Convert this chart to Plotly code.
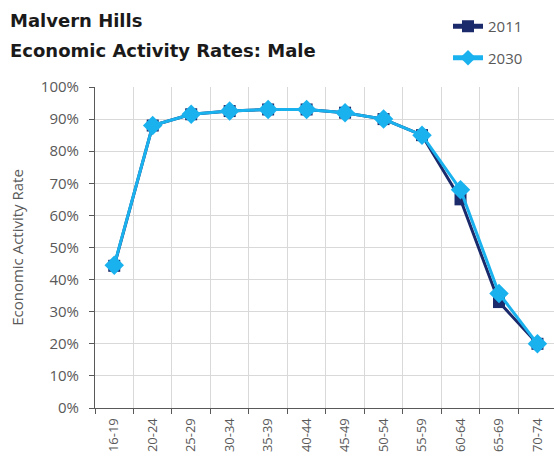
import plotly.graph_objects as go

categories = ["16-19", "20-24", "25-29", "30-34", "35-39", "40-44", "45-49",
              "50-54", "55-59", "60-64", "65-69", "70-74"]
rate_2011 = [0.443, 0.880, 0.915, 0.925, 0.930, 0.930, 0.920, 0.900, 0.850, 0.650, 0.330, 0.200]
rate_2030 = [0.445, 0.880, 0.915, 0.925, 0.930, 0.930, 0.920, 0.900, 0.850, 0.680, 0.357, 0.200]
y_ticks = [i / 10 for i in range(11)]
y_tick_labels = [f"{i * 10}%" for i in range(11)]

c2011 = "#1B2A6B"
c2030 = "#1AB2EE"
grey = "#595959"
font = "Open Sans, sans-serif"
title_font = "DejaVu Sans, sans-serif"

L, T, B, R = 95, 87, 60, 0
PW, PH = 554 - L - R, 468 - T - B

fig = go.Figure()
fig.add_trace(go.Scatter(x=categories, y=rate_2011, name="2011", mode="lines+markers",
                         line=dict(color=c2011, width=3),
                         marker=dict(symbol="square", size=12, color=c2011),
                         legendgroup="a"))
fig.add_trace(go.Scatter(x=categories, y=rate_2030, name="2030", mode="lines+markers",
                         line=dict(color=c2030, width=3),
                         marker=dict(symbol="diamond", size=15, color=c2030),
                         legendgroup="b"))

fig.update_layout(
    width=554, height=468,
    margin=dict(l=L, r=R, t=T, b=B, autoexpand=False),
    paper_bgcolor="white", plot_bgcolor="white",
    font=dict(family=font, color=grey, size=13),
    annotations=[
        dict(text="<b>Malvern Hills</b>", xref="paper", yref="paper",
             x=(8 - L) / PW, y=1 + (T - 21) / PH, xanchor="left", yanchor="middle",
             showarrow=False, font=dict(size=18, color="#1a1a1a", family=title_font)),
        dict(text="<b>Economic Activity Rates: Male</b>", xref="paper", yref="paper",
             x=(8 - L) / PW, y=1 + (T - 50) / PH, xanchor="left", yanchor="middle",
             showarrow=False, font=dict(size=18, color="#1a1a1a", family=title_font)),
    ],
    legend=dict(xref="container", yref="container", x=448 / 554, y=1 - 10 / 468,
                xanchor="left", yanchor="top", bgcolor="rgba(0,0,0,0)",
                traceorder="grouped", tracegroupgap=9, itemsizing="constant",
                font=dict(size=15, color=grey, family=font)),
    xaxis=dict(range=[-0.5, 11.43], tickangle=-90, tickson="boundaries",
               showgrid=True, gridcolor="#D9D9D9", gridwidth=1,
               showline=True, linecolor="#595959", linewidth=1,
               ticks="outside", ticklen=5, tickcolor="#595959",
               automargin=False, ticklabelstandoff=4,
               tickfont=dict(size=13, color=grey)),
    yaxis=dict(range=[0, 1], tickvals=y_ticks, ticktext=y_tick_labels,
               showgrid=True, gridcolor="#D9D9D9", gridwidth=1,
               showline=True, linecolor="#595959", linewidth=1,
               ticks="outside", ticklen=5, tickcolor="#595959",
               zeroline=False, automargin=False, ticklabelstandoff=7,
               title=dict(text="Economic Activity Rate", font=dict(size=15, color=grey), standoff=13),
               tickfont=dict(size=15, color=grey)),
)

fig.write_html("out.html", post_script="document.body.style.margin='0';",
               config={"displayModeBar": False})
